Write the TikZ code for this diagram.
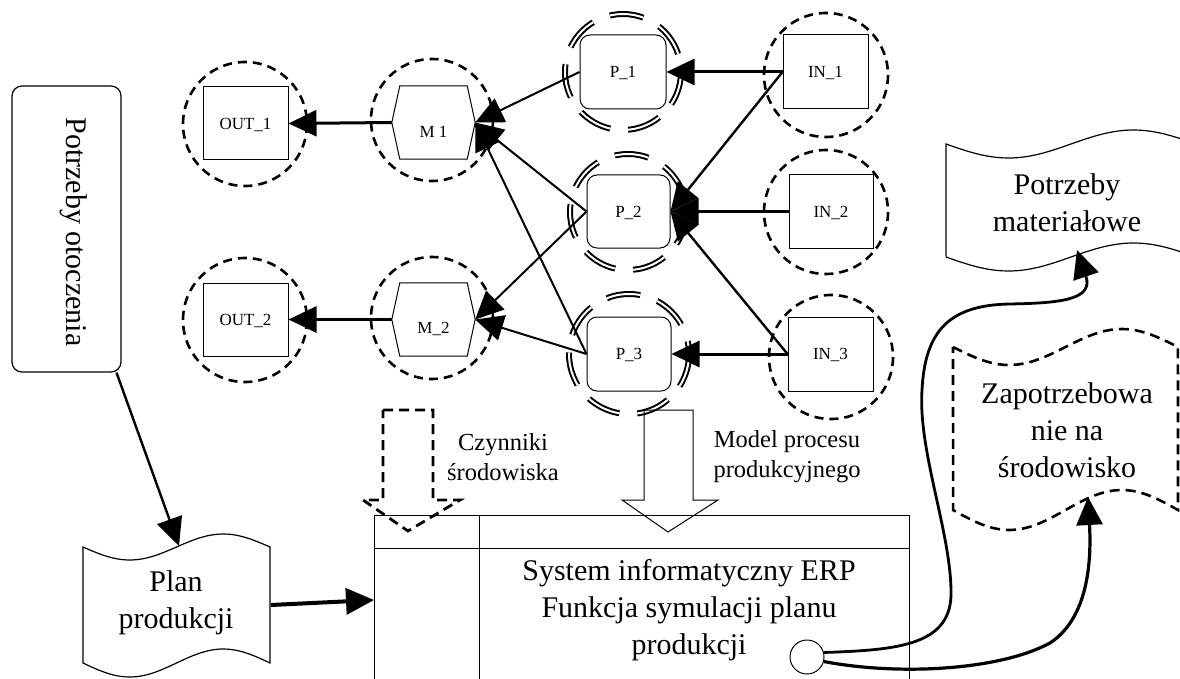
\documentclass[tikz,border=0pt]{standalone}
\usepackage{fontspec}
\setmainfont{Liberation Serif}
\usetikzlibrary{arrows.meta}
\begin{document}
\begin{tikzpicture}[x=1pt,y=-1pt,font=\rmfamily,
  lbl/.style={font=\rmfamily\fontsize{17}{20}\selectfont, text height=11.5pt, text depth=0pt},
  rbox/.style={draw, line width=1pt, minimum width=85pt, minimum height=73pt, inner sep=0pt, lbl},
  pbox/.style={rbox, rounded corners=10pt},
  hbox/.style={minimum width=83pt, minimum height=73pt, inner sep=0pt},
  dcirc/.style={line width=2.6pt, dash pattern=on 9pt off 6pt},
  ddcirc/.style={line width=2pt, double=white, double distance=2pt, dash pattern=on 34pt off 18pt},
  arr/.style={-{Triangle[length=28pt,width=26pt]}, line width=2.4pt},
  bigtext/.style={font=\rmfamily\fontsize{30}{37}\selectfont, align=center, inner sep=0pt},
  midtext/.style={font=\rmfamily\fontsize{24.5}{30}\selectfont, align=center, inner sep=0pt},
  shp/.style={line width=1.2pt}
]
\useasboundingbox (0,0) rectangle (1180,679);
\fill[white] (0,0) rectangle (1180,679);
\clip (0,0) rectangle (1180,679);

% dashed circles
\draw[dcirc] (245,124) circle (62);
\draw[dcirc] (245,320) circle (62);
\draw[dcirc] (432,120) circle (61);
\draw[dcirc] (432,318) circle (61);
\draw[dcirc] (826,75) circle (62);
\draw[dcirc] (826,212) circle (62);
\draw[dcirc] (831,357) circle (62);
% double dashed circles around P
\draw[ddcirc] (623,72) circle (58);
\draw[ddcirc] (628,212) circle (58);
\draw[ddcirc] (629,354) circle (60);

% nodes
\node[rbox] (out1) at (245.5,123.5) {OUT\_1};
\node[rbox] (out2) at (245.5,319.5) {OUT\_2};
\node[hbox] (m1) at (433.5,122.5) {};
\node[hbox] (m2) at (433.5,319.5) {};
\foreach \m in {m1,m2}{
  \draw[line width=1pt] ([xshift=8pt]\m.north west) -- ([xshift=-8pt]\m.north east) -- (\m.east)
    -- ([xshift=-8pt]\m.south east) -- ([xshift=8pt]\m.south west) -- (\m.west) -- cycle;
}
\node[lbl] at ([yshift=-9pt]m1.center) {M 1};
\node[lbl] at ([yshift=-8pt]m2.center) {M\_2};
\node[pbox, minimum width=86pt, minimum height=74pt] (p1) at (623,72) {P\_1};
\node[pbox, minimum width=83pt] (p2) at (628.5,211.5) {P\_2};
\node[pbox, minimum width=84pt, minimum height=74pt] (p3) at (629,354) {P\_3};
\node[rbox, minimum height=74pt] (in1) at (825.5,72) {IN\_1};
\node[rbox, minimum width=84pt] (in2) at (831,211.5) {IN\_2};
\node[rbox, minimum height=74pt] (in3) at (830.5,354) {IN\_3};

% connectors
\draw[arr, line width=3pt] (m1.west) -- (out1.east);
\draw[arr, line width=3pt] (m2.west) -- (out2.east);
\draw[arr, line width=2pt] (p1.west) -- (m1.east);
\draw[arr, line width=2pt] (p2.west) -- (m1.east);
\draw[arr, line width=2pt] (p3.west) -- (m1.east);
\draw[arr, line width=2pt] (p2.west) -- (m2.east);
\draw[arr, line width=2pt] (p3.west) -- (m2.east);
\draw[arr, line width=3pt] (in1.west) -- (p1.east);
\draw[arr, line width=2.4pt] (in1.west) -- (p2.east);
\draw[arr, line width=3.5pt] (in2.west) -- (p2.east);
\draw[arr, line width=2.4pt] (in3.west) -- (p2.east);
\draw[arr, line width=3pt] (in3.west) -- (p3.east);

% Potrzeby otoczenia
\node[draw, shp, rounded corners=10pt, minimum width=109pt, minimum height=286pt, inner sep=0pt] (potoc) at (66.5,229) {};
\node[bigtext, rotate=-90] at (74,232) {Potrzeby otoczenia};

% Plan produkcji
\draw[shp] plot[domain=0:1, samples=50] ({83+187*\x},{547+13*sin(360*\x)})
  -- plot[domain=1:0, samples=50] ({83+187*\x},{663+14*sin(360*\x)}) -- cycle;
\node[bigtext] (plan) at (176,603) {Plan\\produkcji};
\coordinate (plantop) at (179,546);
\coordinate (planE) at (271,605);
\draw[arr, line width=2.4pt] ([xshift=50pt]potoc.south) -- (plantop);

% ERP box
\node[draw, line width=1pt, minimum width=535pt, minimum height=185pt, inner sep=0pt, anchor=north west] (erp) at (374,515) {};
\draw[line width=1pt] ([yshift=-33pt]erp.north west) -- ([yshift=-33pt]erp.north east);
\draw[line width=1pt] ([xshift=105pt]erp.north west) -- ([xshift=105pt]erp.south west);
\node[bigtext] (erptext) at (689,610) {System informatyczny ERP\\Funkcja symulacji planu\\produkcji};
\coordinate (erpW) at (374,600);
\draw[arr, line width=4pt] (planE) -- (erpW);

% block arrows
\draw[line width=2.8pt, dash pattern=on 10pt off 6pt] (383,410) -- (433,410) -- (433,500) -- (460,500) -- (408,531) -- (363,500) -- (383,500) -- cycle;
\node[midtext] (czyn) at (503,457) {Czynniki\\środowiska};
\draw[line width=1pt] (644,410) -- (693,410) -- (693,500) -- (718,500) -- (668,532) -- (622,500) -- (644,500) -- cycle;
\node[midtext] (model) at (787,457) {Model procesu\\produkcyjnego};

% Potrzeby materialowe
\draw[shp] plot[domain=0:1, samples=50] ({946+250*\x},{144+14*sin(360*\x)})
  -- plot[domain=1:0, samples=50] ({946+250*\x},{257+14*sin(360*\x)}) -- cycle;
\node[bigtext] (pm) at (1067,203) {Potrzeby\\materiałowe};
\coordinate (pmtip) at (1077,250);

% Zapotrzebowanie
\draw[line width=2.6pt, dash pattern=on 10pt off 6pt] plot[domain=0:1, samples=50] ({953+225*\x},{347+18*sin(360*\x)})
  -- plot[domain=1:0, samples=50] ({953+225*\x},{510+20*sin(360*\x)}) -- cycle;
\node[bigtext] (zap) at (1067,430) {Zapotrzebowa\\nie na\\środowisko};
\coordinate (zaptip) at (1088,497);

% small circle and curves
\node[draw, circle, line width=1pt, minimum size=34pt, inner sep=0pt] (ci) at (807,657) {};
\draw[arr, line width=2.8pt] (ci.15) .. controls (900,650) and (953,645) .. (951,590)
  .. controls (950,530) and (918,450) .. (922,390)
  .. controls (925,330) and (950,305) .. (1010,304)
  .. controls (1060,303) and (1094,300) .. (pmtip);
\draw[arr, line width=3.2pt] (ci.-15) .. controls (900,676) and (1000,670) .. (1050,643)
  .. controls (1085,620) and (1092,570) .. (zaptip);
\end{tikzpicture}
\end{document}
